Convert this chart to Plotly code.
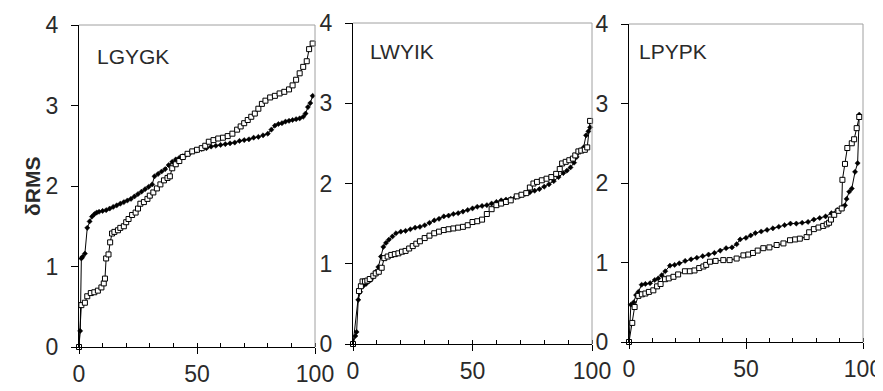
import plotly.graph_objects as go

# ---------------- data ----------------
panel_names = ["LGYGK", "LWYIK", "LPYPK"]
x_ticks = [0, 50, 100]
x_tick_labels = ["0", "50", "100"]
y_ticks = [0, 1, 2, 3, 4]
y_tick_labels = ["0", "1", "2", "3", "4"]

# Panel 1: LGYGK
p1_filled_x = [0, 0.5, 1, 1.5, 2.5, 3.5, 4.5, 5.5, 6.5, 7.5,
               8.5, 10, 11.5, 13, 14.5, 16, 17.5, 19, 20.5, 22,
               23.5, 25, 26.5, 28, 29.5, 31, 32, 33.5, 35, 36.5,
               38, 39.5, 41, 42.5, 44, 45.5, 47, 48.5, 50, 52,
               54, 56, 58, 60, 62, 64, 66, 68, 70, 72,
               74, 76, 78, 80, 81.5, 83, 84.5, 86, 87.5, 89,
               90.5, 92, 93.5, 95, 96, 97, 98, 99]
p1_filled_y = [0, 0.2, 1.1, 1.12, 1.16, 1.48, 1.56, 1.62, 1.65, 1.67,
               1.68, 1.69, 1.70, 1.72, 1.74, 1.76, 1.78, 1.80, 1.82, 1.84,
               1.87, 1.9, 1.93, 1.96, 1.99, 2.02, 2.12, 2.15, 2.18, 2.21,
               2.26, 2.30, 2.33, 2.35, 2.37, 2.39, 2.41, 2.43, 2.44, 2.46,
               2.47, 2.49, 2.50, 2.51, 2.52, 2.53, 2.54, 2.56, 2.57, 2.58,
               2.60, 2.61, 2.63, 2.65, 2.70, 2.75, 2.77, 2.78, 2.80, 2.81,
               2.82, 2.83, 2.84, 2.86, 2.90, 2.98, 3.03, 3.12]
p1_open_x = [0, 1, 2.5, 3.5, 5, 6.5, 8, 9.5, 10.5, 11,
             11.5, 12.5, 13.2, 14, 15, 16.5, 17.5, 19, 20, 21,
             22.5, 24, 25, 26, 27.5, 29, 30, 31.5, 33, 34.5,
             36, 37.5, 38.5, 39.5, 41, 42.5, 44, 46, 48, 50,
             52, 53.5, 55, 57, 59, 61, 63, 65, 67, 68.5,
             70, 71.5, 73, 74.5, 76, 77.5, 79, 81, 83, 85,
             87, 89, 90.5, 92, 93.5, 95, 96.5, 97.5, 99]
p1_open_y = [0, 0.52, 0.55, 0.63, 0.67, 0.68, 0.70, 0.74, 0.79, 0.85,
             1.10, 1.15, 1.30, 1.41, 1.43, 1.45, 1.48, 1.50, 1.55, 1.59,
             1.64, 1.67, 1.72, 1.78, 1.80, 1.84, 1.88, 1.92, 1.97, 2.02,
             2.07, 2.10, 2.12, 2.22, 2.27, 2.31, 2.36, 2.40, 2.43, 2.45,
             2.47, 2.50, 2.55, 2.57, 2.59, 2.60, 2.62, 2.65, 2.70, 2.74,
             2.78, 2.82, 2.86, 2.90, 2.96, 3.02, 3.06, 3.10, 3.12, 3.15,
             3.17, 3.20, 3.25, 3.32, 3.40, 3.48, 3.55, 3.70, 3.77]

# Panel 2: LWYIK
p2_filled_x = [0, 1, 1.5, 2.2, 3, 3.6, 4.5, 5.5, 6.5, 7.5,
               8.5, 9.5, 10.6, 11.7, 12.7, 13.8, 15, 16.5, 18, 20,
               22, 24, 26, 28, 30, 32, 34, 36, 38, 40,
               42, 44, 46, 48, 50, 52, 54, 56, 58, 60,
               62, 64, 66, 68, 70, 72, 74, 76, 78, 80,
               82, 84, 86, 88, 89.5, 91, 92.5, 93.6, 95, 96.5,
               97.5, 98.5, 99.2]
p2_filled_y = [0, 0.1, 0.15, 0.55, 0.65, 0.71, 0.73, 0.75, 0.78, 0.8,
               0.84, 0.9, 0.96, 1.09, 1.21, 1.26, 1.3, 1.34, 1.38, 1.40,
               1.41, 1.43, 1.45, 1.46, 1.48, 1.51, 1.54, 1.56, 1.59, 1.60,
               1.62, 1.63, 1.65, 1.67, 1.69, 1.71, 1.72, 1.73, 1.75, 1.77,
               1.79, 1.80, 1.81, 1.83, 1.85, 1.87, 1.89, 1.91, 1.93, 1.96,
               1.99, 2.03, 2.08, 2.13, 2.16, 2.20, 2.26, 2.33, 2.40, 2.45,
               2.60, 2.65, 2.70]
p2_open_x = [0, 2.5, 3.3, 4, 5, 6, 7, 8.5, 9.5,
             10.8, 12, 13.1, 14.5, 16, 17.5, 19, 20.5, 22, 23.5,
             25, 26.5, 28, 30, 32, 34, 36, 38, 40, 42,
             44, 46, 48, 50, 52, 54, 56, 58, 60, 62,
             64, 66, 68.5, 70.5, 72.5, 74, 75.5, 77, 79, 81,
             83, 85, 86.5, 87.5, 89, 90.5, 92, 93, 94.3, 95.5,
             97, 98, 99.2]
p2_open_y = [0, 0.66, 0.72, 0.78, 0.78, 0.79, 0.81, 0.85, 0.88,
             0.9, 0.95, 1.07, 1.09, 1.11, 1.12, 1.13, 1.15, 1.16, 1.19,
             1.22, 1.25, 1.28, 1.32, 1.35, 1.38, 1.40, 1.42, 1.43, 1.44,
             1.45, 1.46, 1.48, 1.52, 1.53, 1.55, 1.62, 1.68, 1.73, 1.75,
             1.77, 1.79, 1.84, 1.86, 1.88, 1.95, 2.00, 2.02, 2.04, 2.06,
             2.08, 2.12, 2.18, 2.25, 2.27, 2.29, 2.31, 2.35, 2.40, 2.41,
             2.42, 2.45, 2.78]

# Panel 3: LPYPK
p3_filled_x = [0, 0.8, 2, 3, 4, 5.4, 7, 9, 11, 12.5,
               14, 15.5, 17.5, 19.5, 21.5, 24, 26.5, 29, 31.5, 34,
               36.5, 39, 41.5, 44, 46, 47.5, 50, 52, 54, 56.5,
               59, 61.5, 64, 66.5, 69, 71.5, 74, 76.5, 79, 81.5,
               84, 86.5, 89, 91.5, 92.3, 93, 94.1, 95.2, 96.6, 97.7,
               98.4]
p3_filled_y = [0, 0.47, 0.5, 0.59, 0.63, 0.72, 0.73, 0.74, 0.78, 0.80,
               0.84, 0.89, 0.96, 0.97, 0.99, 1.02, 1.04, 1.06, 1.08, 1.10,
               1.12, 1.15, 1.18, 1.19, 1.23, 1.29, 1.31, 1.34, 1.37, 1.39,
               1.41, 1.43, 1.45, 1.47, 1.49, 1.49, 1.50, 1.51, 1.54, 1.56,
               1.58, 1.62, 1.66, 1.70, 1.72, 1.80, 1.89, 1.93, 2.14, 2.25,
               2.86]
p3_open_x = [0, 1.4, 2.4, 4, 5.5, 7, 8.5, 10.4, 12, 13.5,
             15.4, 17, 19, 21, 23.9, 26, 28, 30, 31.8, 33,
             34.6, 37, 40.3, 43, 46, 48.9, 51, 53, 55, 57.4,
             60, 63.1, 66, 68.8, 71, 73, 75.9, 77, 79, 81,
             83, 84.5, 85.5, 86.3, 87.7, 89.5, 90.9, 91.2, 92.3, 93.3,
             95.2, 96.2, 97.3, 98.4]
p3_open_y = [0, 0.24, 0.44, 0.58, 0.60, 0.61, 0.63, 0.65, 0.70, 0.73,
             0.79, 0.80, 0.82, 0.85, 0.89, 0.89, 0.90, 0.93, 0.95, 0.97,
             1.01, 1.02, 1.03, 1.03, 1.05, 1.09, 1.10, 1.12, 1.15, 1.18,
             1.19, 1.22, 1.24, 1.28, 1.29, 1.30, 1.32, 1.38, 1.42, 1.44,
             1.46, 1.48, 1.50, 1.54, 1.60, 1.65, 1.68, 2.04, 2.24, 2.44,
             2.50, 2.55, 2.69, 2.83]

filled_x = [p1_filled_x, p2_filled_x, p3_filled_x]
filled_y = [p1_filled_y, p2_filled_y, p3_filled_y]
open_x = [p1_open_x, p2_open_x, p3_open_x]
open_y = [p1_open_y, p2_open_y, p3_open_y]

# ---------------- figure ----------------
# The page body has an 8px margin, so the figure starts at (8, 8) in the
# window; size it so that it ends at the window's right and bottom edges.
OFF = 8
W, H = 883 - OFF, 391 - OFF
FONT = "Liberation Sans, Arial, sans-serif"
TXT = "#2a2a2a"

# pixel boxes (window coordinates) of the plot areas: (left, right, top, bottom)
boxes = [(79, 315, 25, 347), (353, 592, 23, 344), (629, 863, 24, 342)]
label_pos = [(6.8, 3.61), (6.3, 3.64), (3.4, 3.65)]


def px(x):
    return (x - OFF) / W


def py(y):
    return 1 - (y - OFF) / H


fig = go.Figure()
layout = dict(
    width=W, height=H,
    margin=dict(l=0, r=0, t=0, b=0, pad=0, autoexpand=False),
    paper_bgcolor="white", plot_bgcolor="white",
    showlegend=False,
    font=dict(family=FONT, color=TXT),
)
shapes = []
annotations = []

for i in range(3):
    sfx = "" if i == 0 else str(i + 1)
    xa, ya = "x" + sfx, "y" + sfx
    left, right, top, bottom = boxes[i]

    fig.add_trace(go.Scatter(
        x=filled_x[i], y=filled_y[i], xaxis=xa, yaxis=ya,
        mode="lines+markers",
        line=dict(color="black", width=1),
        marker=dict(symbol="diamond", size=4, color="black",
                    line=dict(color="black", width=0.5)),
        cliponaxis=False,
    ))
    fig.add_trace(go.Scatter(
        x=open_x[i], y=open_y[i], xaxis=xa, yaxis=ya,
        mode="lines+markers",
        line=dict(color="black", width=1),
        marker=dict(symbol="square", size=5, color="white",
                    line=dict(color="black", width=1)),
        cliponaxis=False,
    ))

    layout["xaxis" + sfx] = dict(
        domain=[px(left), px(right)], anchor=ya, automargin=False,
        range=[0, 100], showgrid=False, zeroline=False,
        showline=True, linecolor="black", linewidth=1,
        tickmode="array", tickvals=x_ticks, ticktext=x_tick_labels,
        ticks="outside", ticklen=6, tickcolor="black", tickwidth=1,
        minor=dict(dtick=10, ticks="inside", ticklen=4, tickcolor="black"),
        tickfont=dict(size=23, color=TXT, family=FONT),
    )
    layout["yaxis" + sfx] = dict(
        domain=[py(bottom), py(top)], anchor=xa, automargin=False,
        range=[0, 4], showgrid=False, zeroline=False,
        showline=True, linecolor="black", linewidth=1,
        tickmode="array", tickvals=y_ticks, ticktext=y_tick_labels,
        ticks="outside", ticklen=7, tickcolor="black", tickwidth=1,
        ticklabelstandoff=8,
        tickfont=dict(size=23, color=TXT, family=FONT),
    )
    # grey top and right border of the plot area
    shapes.append(dict(type="line", xref=xa + " domain", yref=ya + " domain",
                       x0=0, x1=1, y0=1, y1=1,
                       line=dict(color="#a0a0a0", width=1)))
    shapes.append(dict(type="line", xref=xa + " domain", yref=ya + " domain",
                       x0=1, x1=1, y0=0, y1=1,
                       line=dict(color="#a0a0a0", width=1)))
    annotations.append(dict(
        text=panel_names[i], x=label_pos[i][0], y=label_pos[i][1],
        xref=xa, yref=ya, xanchor="left", yanchor="middle",
        showarrow=False, font=dict(size=21, color=TXT, family=FONT),
    ))

annotations.append(dict(
    text="<b>δRMS</b>", x=px(32), y=py(187), xref="paper", yref="paper",
    xanchor="center", yanchor="middle", textangle=-90, showarrow=False,
    font=dict(size=21, color=TXT, family=FONT),
))

layout["shapes"] = shapes
layout["annotations"] = annotations
fig.update_layout(**layout)
fig.write_html("out.html")
